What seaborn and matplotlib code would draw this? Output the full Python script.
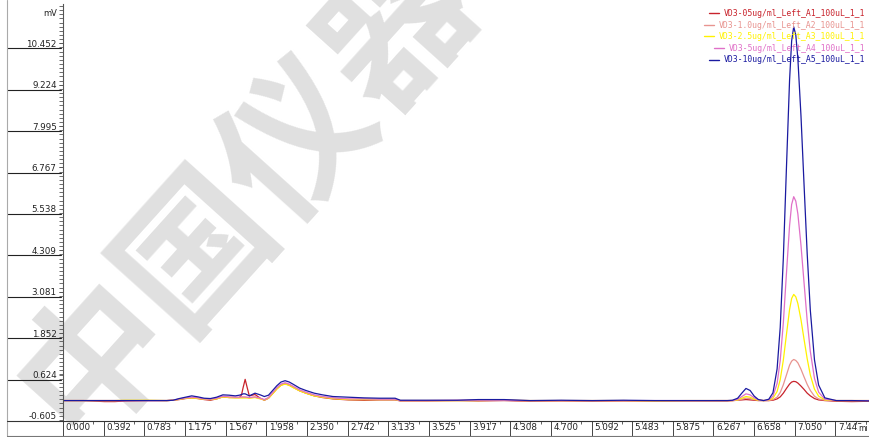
import matplotlib
matplotlib.use("Agg")
import matplotlib.pyplot as plt
import matplotlib.transforms as mtransforms
from matplotlib.lines import Line2D
from matplotlib.ticker import FixedLocator
import numpy as np
import pandas as pd
import seaborn as sns

# Retention time grid (min), shared by all five injections
time_min = [
    0.00, 0.20, 0.40, 0.50, 0.60, 0.80, 1.00, 1.06, 1.12, 1.18,
    1.24, 1.30, 1.36, 1.42, 1.48, 1.54, 1.60, 1.66, 1.70, 1.72,
    1.735, 1.755, 1.775, 1.795, 1.85, 1.90, 1.94, 1.98, 2.02, 2.06,
    2.10, 2.14, 2.18, 2.22, 2.28, 2.34, 2.42, 2.50, 2.60, 2.75,
    2.90, 3.05, 3.20, 3.25, 3.50, 3.80, 4.00, 4.25, 4.50, 4.80,
    5.10, 5.40, 5.70, 6.00, 6.30, 6.40, 6.45, 6.50, 6.54, 6.58,
    6.62, 6.66, 6.70, 6.75, 6.80, 6.84, 6.88, 6.91, 6.94, 6.97,
    7.00, 7.02, 7.04, 7.06, 7.08, 7.11, 7.14, 7.17, 7.20, 7.24,
    7.28, 7.34, 7.45, 7.60, 7.77,
]

# Detector signal (mV) for each standard
sig_a1 = [
    -0.15, -0.15, -0.18, -0.18, -0.16, -0.15, -0.15, -0.14, -0.12, -0.09,
    -0.07, -0.09, -0.12, -0.14, -0.10, -0.04, -0.06, -0.06, -0.06, 0.02,
    0.23, 0.48, 0.23, -0.01, 0.03, -0.08, -0.14, -0.08, 0.06, 0.20,
    0.31, 0.35, 0.31, 0.24, 0.14, 0.07, -0.01, -0.06, -0.10, -0.13,
    -0.14, -0.13, -0.13, -0.16, -0.16, -0.15, -0.16, -0.15, -0.17, -0.16,
    -0.17, -0.16, -0.17, -0.16, -0.16, -0.16, -0.15, -0.14, -0.13, -0.12,
    -0.13, -0.14, -0.15, -0.15, -0.15, -0.14, -0.10, -0.04, 0.07, 0.21,
    0.34, 0.40, 0.42, 0.41, 0.37, 0.28, 0.18, 0.07, -0.01, -0.09,
    -0.13, -0.15, -0.17, -0.18, -0.17,
]
sig_a2 = [
    -0.15, -0.15, -0.15, -0.15, -0.15, -0.15, -0.15, -0.14, -0.11, -0.08,
    -0.06, -0.08, -0.11, -0.11, -0.09, -0.03, -0.05, -0.06, -0.06, -0.06,
    -0.06, -0.06, -0.06, -0.07, -0.05, -0.09, -0.13, -0.07, 0.07, 0.21,
    0.32, 0.36, 0.32, 0.25, 0.15, 0.08, 0.00, -0.04, -0.08, -0.11,
    -0.11, -0.12, -0.12, -0.15, -0.15, -0.15, -0.14, -0.14, -0.16, -0.15,
    -0.16, -0.15, -0.16, -0.16, -0.15, -0.15, -0.15, -0.14, -0.11, -0.08,
    -0.09, -0.12, -0.14, -0.15, -0.15, -0.12, -0.05, 0.09, 0.32, 0.61,
    0.90, 1.02, 1.07, 1.04, 0.97, 0.78, 0.55, 0.33, 0.15, -0.02,
    -0.10, -0.14, -0.15, -0.15, -0.15,
]
sig_a3 = [
    -0.15, -0.15, -0.15, -0.15, -0.14, -0.14, -0.15, -0.14, -0.11, -0.08,
    -0.07, -0.09, -0.11, -0.12, -0.10, -0.04, -0.06, -0.07, -0.07, -0.07,
    -0.07, -0.07, -0.07, -0.08, -0.06, -0.10, -0.13, -0.08, 0.05, 0.19,
    0.30, 0.34, 0.30, 0.23, 0.14, 0.07, -0.01, -0.05, -0.09, -0.12,
    -0.12, -0.12, -0.12, -0.15, -0.15, -0.15, -0.15, -0.14, -0.15, -0.15,
    -0.15, -0.15, -0.16, -0.15, -0.15, -0.15, -0.15, -0.13, -0.08, -0.03,
    -0.05, -0.11, -0.14, -0.15, -0.14, -0.08, 0.12, 0.47, 1.05, 1.81,
    2.55, 2.88, 3.00, 2.93, 2.73, 2.25, 1.66, 1.09, 0.61, 0.19,
    -0.02, -0.13, -0.15, -0.15, -0.15,
]
sig_a4 = [
    -0.15, -0.15, -0.15, -0.15, -0.15, -0.15, -0.15, -0.14, -0.10, -0.07,
    -0.05, -0.07, -0.10, -0.11, -0.08, -0.02, -0.04, -0.05, -0.05, -0.04,
    -0.04, -0.04, -0.05, -0.06, -0.04, -0.08, -0.12, -0.06, 0.09, 0.23,
    0.34, 0.38, 0.34, 0.27, 0.17, 0.10, 0.02, -0.03, -0.07, -0.10,
    -0.10, -0.11, -0.11, -0.15, -0.15, -0.14, -0.14, -0.14, -0.15, -0.15,
    -0.15, -0.15, -0.15, -0.15, -0.15, -0.15, -0.15, -0.11, -0.03, 0.05,
    0.02, -0.07, -0.13, -0.15, -0.13, -0.02, 0.36, 1.04, 2.16, 3.62,
    5.04, 5.67, 5.90, 5.77, 5.39, 4.46, 3.33, 2.22, 1.31, 0.51,
    0.10, -0.11, -0.15, -0.15, -0.15,
]
sig_a5 = [
    -0.15, -0.15, -0.15, -0.15, -0.15, -0.15, -0.15, -0.14, -0.09, -0.05,
    -0.01, -0.04, -0.08, -0.09, -0.05, 0.02, 0.01, -0.01, 0.01, 0.03,
    0.05, 0.05, 0.02, -0.01, 0.07, 0.02, -0.03, 0.01, 0.15, 0.29,
    0.40, 0.44, 0.40, 0.33, 0.22, 0.15, 0.07, 0.02, -0.03, -0.05,
    -0.07, -0.08, -0.08, -0.14, -0.14, -0.14, -0.12, -0.12, -0.15, -0.14,
    -0.15, -0.14, -0.15, -0.15, -0.15, -0.15, -0.14, -0.08, 0.07, 0.21,
    0.15, -0.02, -0.12, -0.15, -0.11, 0.08, 0.79, 2.02, 4.08, 6.76,
    9.35, 10.52, 10.94, 10.70, 10.00, 8.30, 6.23, 4.20, 2.53, 1.06,
    0.31, -0.07, -0.15, -0.15, -0.16,
]

sample_names = [
    "VD3-05ug/ml_Left_A1_100uL_1_1",
    "VD3-1.0ug/ml_Left_A2_100uL_1_1",
    "VD3-2.5ug/ml_Left_A3_100uL_1_1",
    "VD3-5ug/ml_Left_A4_100uL_1_1",
    "VD3-10ug/ml_Left_A5_100uL_1_1",
]
sample_colors = ["#c8232c", "#e89490", "#fff200", "#e070c8", "#1a1aa0"]
signals = [sig_a1, sig_a2, sig_a3, sig_a4, sig_a5]

y_tick_values = [-0.605, 0.624, 1.852, 3.081, 4.309, 5.538, 6.767, 7.995, 9.224, 10.452]
x_tick_labels = ["0.000", "0.392", "0.783", "1.175", "1.567", "1.958", "2.350",
                 "2.742", "3.133", "3.525", "3.917", "4.308", "4.700", "5.092",
                 "5.483", "5.875", "6.267", "6.658", "7.050", "7.442"]

frames = [pd.DataFrame({"time": time_min, "signal": s, "sample": n})
          for n, s in zip(sample_names, signals)]
df = pd.concat(frames, ignore_index=True)

sns.set_theme(style="white")
plt.rcParams["font.family"] = ["DejaVu Sans"]

W, H = 870, 437
fig = plt.figure(figsize=(W / 100, H / 100), dpi=100)
fig.patch.set_facecolor("white")
ax_left, ax_bottom, ax_top = 63, 421, 4
ax = fig.add_axes([ax_left / W, (H - ax_bottom) / H,
                   (W - ax_left) / W, (ax_bottom - ax_top) / H])
ax.set_facecolor("none")

# background watermark, drawn beneath the axes
fig.text(248 / W, 1 - 192 / H, "中国仪器", family=["Noto Sans CJK SC", "DejaVu Sans"],
         fontsize=108, fontweight="bold", color="#e0e0e0", rotation=48,
         ha="center", va="center", zorder=-1)

palette = dict(zip(sample_names, sample_colors))
sns.lineplot(data=df, x="time", y="signal", hue="sample", hue_order=sample_names,
             palette=palette, estimator=None, sort=False, linewidth=0.9,
             ax=ax, legend=True)

ax.set_xlim(0, 7.775)
ax.set_ylim(-0.756, 11.618)
ax.set_xlabel("")
ax.set_ylabel("")

for side in ("top", "right"):
    ax.spines[side].set_visible(False)
ax.spines["left"].set_color("#555555")
ax.spines["left"].set_linewidth(0.8)
ax.spines["bottom"].set_color("#333333")
ax.spines["bottom"].set_linewidth(0.8)

# y axis: value labels with dense minor ticks
ax.yaxis.set_major_locator(FixedLocator(y_tick_values))
ax.set_yticklabels([f"{v:.3f}" for v in y_tick_values])
step = 1.2286 / 10
ax.yaxis.set_minor_locator(FixedLocator(np.arange(-0.605 - step, 11.6, step)))
ax.tick_params(axis="y", which="both", direction="out", length=3, width=0.6,
               color="#555555", left=True, pad=1.5, labelsize=6.3, labelcolor="#222222")

# x axis: boxed labels, major ticks act as cell separators
x_vals = [float(s) for s in x_tick_labels]
ax.xaxis.set_major_locator(FixedLocator(x_vals))
ax.set_xticklabels(x_tick_labels)
minor_x = []
for a in x_vals:
    minor_x += [a + 0.3917 * f for f in (0.25, 0.5, 0.75)]
ax.xaxis.set_minor_locator(FixedLocator(minor_x))
ax.tick_params(axis="x", which="major", direction="out", length=10.8, width=0.7,
               color="#444444", bottom=True, pad=-9.0, labelsize=6.3, labelcolor="#222222")
ax.tick_params(axis="x", which="minor", direction="out", length=2.2, width=0.6,
               color="#444444", bottom=True)
shift = mtransforms.ScaledTranslation(2.5 / 100, 0, fig.dpi_scale_trans)
for lab in ax.get_xticklabels():
    lab.set_ha("left")
    lab.set_transform(lab.get_transform() + shift)

# unit labels
ax.text(-6 / (W - ax_left), 1 - 9 / (ax_bottom - ax_top), "mV", transform=ax.transAxes,
        ha="right", va="center", fontsize=6, color="#222222")
ax.text((858 - ax_left) / (W - ax_left), -7.5 / (ax_bottom - ax_top), "mi",
        transform=ax.transAxes, ha="left", va="center", fontsize=5.5, color="#222222",
        bbox=dict(boxstyle="square,pad=0.05", fc="white", ec="none"), clip_on=False)

# frame lines of the label table
gray = "#777777"
fig.add_artist(Line2D([7 / W, 7 / W], [1 / H, 1.0], color="#aaaaaa", lw=0.8))
fig.add_artist(Line2D([7 / W, 1.0], [1 - 436 / H, 1 - 436 / H], color=gray, lw=0.8))
fig.add_artist(Line2D([7 / W, ax_left / W], [1 - ax_bottom / H, 1 - ax_bottom / H],
                      color="#333333", lw=0.8))
sep_tr = mtransforms.blended_transform_factory(fig.transFigure, ax.transData)
for v in y_tick_values[1:]:
    ax.add_line(Line2D([7 / W, 61 / W], [v - 0.15, v - 0.15], transform=sep_tr,
                       color="#222222", lw=0.8, clip_on=False))

# legend: coloured names, right aligned
leg = ax.legend(loc="upper right", bbox_to_anchor=(1.0, 1.0), frameon=False,
                prop={"family": "DejaVu Sans Mono", "size": 5.9},
                handlelength=1.2, handletextpad=0.6, labelspacing=0.32,
                borderaxespad=0.15, borderpad=0.45)
for col in leg._legend_handle_box.get_children():
    col.align = "right"
for txt, c in zip(leg.get_texts(), sample_colors):
    txt.set_color(c)
for h in leg.get_lines():
    h.set_linewidth(1.0)

fig.savefig("out.png", dpi=100, facecolor="white")
